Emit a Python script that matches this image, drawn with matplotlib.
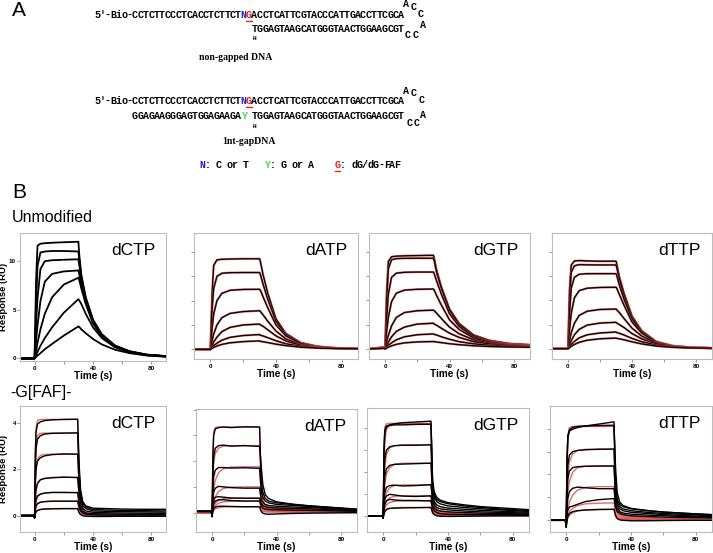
import matplotlib
matplotlib.use("Agg")
import matplotlib.pyplot as plt

W, H = 713, 553

# ---------------- data ----------------
NUCS = ["dCTP", "dATP", "dGTP", "dTTP"]

T_UN = [-10, -0.5, 0, 1, 2, 4, 7, 12, 20, 30, 30.5, 32, 35, 40, 46, 55, 65, 77, 90]

UN_DCTP = [
    [0, 0, 0.1, 8.0, 11.6, 11.8, 11.85, 11.9, 11.95, 12.0, 10.8, 8.6, 6.3, 4.0, 2.5, 1.35, 0.75, 0.4, 0.25],
    [0, 0, 0.1, 5.5, 9.5, 10.9, 11.0, 11.05, 11.05, 11.0, 10.3, 8.4, 6.2, 3.9, 2.45, 1.3, 0.72, 0.38, 0.24],
    [0, 0, 0.1, 3.5, 6.2, 9.2, 10.0, 10.1, 10.15, 10.2, 9.7, 8.1, 6.0, 3.8, 2.4, 1.28, 0.7, 0.37, 0.23],
    [0, 0, 0.05, 1.8, 3.4, 5.9, 7.9, 8.7, 8.95, 9.05, 8.7, 7.6, 5.8, 3.7, 2.3, 1.25, 0.68, 0.36, 0.22],
    [0, 0, 0, 0.8, 1.6, 3.0, 4.6, 6.3, 7.6, 8.3, 8.1, 7.2, 5.6, 3.6, 2.25, 1.2, 0.66, 0.35, 0.22],
    [0, 0, 0, 0.35, 0.7, 1.3, 2.1, 3.2, 4.7, 6.1, 6.0, 5.6, 4.6, 3.2, 2.1, 1.15, 0.64, 0.34, 0.2],
    [0, 0, 0, 0.15, 0.3, 0.55, 0.95, 1.5, 2.35, 3.3, 3.25, 3.0, 2.6, 2.0, 1.45, 0.9, 0.55, 0.3, 0.18],
]
UN_DATP = [
    [0, 0, 0, 4.5, 6.9, 7.35, 7.4, 7.42, 7.44, 7.44, 7.2, 6.2, 4.6, 2.5, 1.3, 0.55, 0.25, 0.1, 0.05],
    [0, 0, 0, 3.2, 5.0, 6.0, 6.25, 6.3, 6.31, 6.31, 6.15, 5.4, 4.1, 2.3, 1.2, 0.5, 0.22, 0.1, 0.05],
    [0, 0, 0, 1.7, 2.9, 4.0, 4.6, 4.85, 4.92, 4.93, 4.85, 4.35, 3.4, 2.0, 1.1, 0.47, 0.2, 0.1, 0.05],
    [0, 0, 0, 0.7, 1.25, 2.0, 2.6, 2.95, 3.1, 3.17, 3.1, 2.85, 2.3, 1.5, 0.85, 0.38, 0.18, 0.09, 0.05],
    [0, 0, 0, 0.3, 0.6, 1.0, 1.45, 1.8, 2.0, 2.07, 2.0, 1.9, 1.6, 1.1, 0.68, 0.32, 0.16, 0.08, 0.05],
    [0, 0, 0, 0.15, 0.3, 0.5, 0.75, 0.98, 1.13, 1.21, 1.15, 1.1, 0.95, 0.7, 0.45, 0.24, 0.12, 0.07, 0.05],
    [0, 0, 0, 0.08, 0.15, 0.27, 0.4, 0.53, 0.63, 0.69, 0.65, 0.62, 0.55, 0.42, 0.3, 0.17, 0.1, 0.06, 0.05],
]
UN_DGTP = [
    [0, 0.15, 0, 4.8, 7.2, 7.6, 7.65, 7.68, 7.7, 7.72, 7.5, 6.5, 5.1, 3.3, 2.1, 1.15, 0.7, 0.45, 0.35],
    [0, 0.15, 0, 4.0, 6.6, 7.35, 7.45, 7.47, 7.48, 7.48, 7.3, 6.3, 5.0, 3.2, 2.0, 1.1, 0.65, 0.4, 0.3],
    [0, 0.12, 0, 2.6, 4.5, 5.9, 6.25, 6.32, 6.34, 6.34, 6.2, 5.6, 4.5, 2.9, 1.85, 1.0, 0.6, 0.37, 0.28],
    [0, 0.1, 0, 1.5, 2.6, 3.9, 4.6, 4.85, 4.92, 4.94, 4.85, 4.4, 3.6, 2.4, 1.6, 0.9, 0.55, 0.35, 0.27],
    [0, 0.1, 0, 0.6, 1.1, 1.9, 2.6, 3.0, 3.15, 3.2, 3.15, 2.95, 2.5, 1.8, 1.25, 0.75, 0.47, 0.32, 0.25],
    [0, 0.08, 0, 0.3, 0.55, 1.0, 1.45, 1.8, 2.05, 2.12, 2.05, 1.95, 1.7, 1.3, 0.95, 0.6, 0.4, 0.28, 0.22],
    [0, 0.08, 0, 0.15, 0.3, 0.5, 0.75, 1.0, 1.17, 1.24, 1.2, 1.15, 1.0, 0.8, 0.6, 0.42, 0.3, 0.22, 0.18],
    [0, 0.05, 0, 0.08, 0.15, 0.25, 0.38, 0.5, 0.58, 0.61, 0.6, 0.57, 0.52, 0.43, 0.35, 0.26, 0.2, 0.16, 0.14],
]
UN_DTTP = [
    [0, 0, 0, 5.0, 6.9, 7.25, 7.28, 7.25, 7.23, 7.23, 7.0, 6.0, 4.6, 2.7, 1.5, 0.6, 0.25, 0.1, 0.05],
    [0, 0, 0, 4.2, 6.3, 6.85, 6.95, 6.93, 6.92, 6.92, 6.7, 5.8, 4.4, 2.6, 1.45, 0.58, 0.24, 0.1, 0.05],
    [0, 0, 0, 3.0, 5.0, 5.9, 6.15, 6.2, 6.2, 6.2, 6.05, 5.3, 4.1, 2.45, 1.4, 0.56, 0.23, 0.1, 0.05],
    [0, 0, 0, 1.6, 2.9, 4.2, 4.8, 5.0, 5.06, 5.08, 5.0, 4.5, 3.6, 2.2, 1.3, 0.53, 0.22, 0.1, 0.05],
    [0, 0, 0, 0.7, 1.3, 2.1, 2.75, 3.1, 3.24, 3.28, 3.2, 3.0, 2.5, 1.7, 1.05, 0.47, 0.2, 0.09, 0.05],
    [0, 0, 0, 0.35, 0.65, 1.15, 1.6, 1.95, 2.12, 2.18, 2.12, 2.0, 1.75, 1.25, 0.82, 0.4, 0.18, 0.08, 0.05],
    [0, 0, 0, 0.18, 0.35, 0.6, 0.9, 1.15, 1.3, 1.38, 1.33, 1.28, 1.13, 0.85, 0.58, 0.3, 0.15, 0.07, 0.05],
    [0, 0, 0, 0.1, 0.2, 0.35, 0.53, 0.7, 0.82, 0.88, 0.85, 0.82, 0.74, 0.57, 0.4, 0.22, 0.12, 0.06, 0.05],
]

T_FAF = [-10, -0.5, 0, 0.5, 1, 2, 4, 7, 12, 20, 29.5, 30.5, 31.5, 33, 35, 40, 50, 60, 75, 90]

FAF_DCTP = [
    [0, 0, -0.08, 2.6, 3.6, 3.95, 4.05, 4.1, 4.13, 4.15, 4.16, 2.2, 1.1, 0.6, 0.42, 0.32, 0.3, 0.28, 0.27, 0.27],
    [0, 0, -0.08, 1.9, 2.9, 3.3, 3.45, 3.52, 3.55, 3.56, 3.57, 1.9, 0.95, 0.52, 0.37, 0.26, 0.24, 0.22, 0.21, 0.2],
    [0, 0, -0.08, 1.3, 2.0, 2.35, 2.5, 2.58, 2.63, 2.66, 2.65, 1.4, 0.75, 0.42, 0.3, 0.2, 0.18, 0.17, 0.16, 0.15],
    [0, 0, -0.1, 0.75, 1.15, 1.4, 1.55, 1.6, 1.63, 1.66, 1.64, 0.9, 0.5, 0.3, 0.2, 0.14, 0.12, 0.11, 0.1, 0.1],
    [0, 0, -0.1, 0.45, 0.7, 0.85, 0.93, 0.97, 1.0, 1.0, 0.99, 0.55, 0.32, 0.18, 0.12, 0.08, 0.07, 0.06, 0.06, 0.06],
    [0, 0, -0.1, 0.25, 0.42, 0.52, 0.58, 0.6, 0.62, 0.62, 0.62, 0.35, 0.2, 0.1, 0.06, 0.03, 0.02, 0.02, 0.02, 0.02],
    [0, 0, -0.12, 0.05, 0.16, 0.22, 0.26, 0.28, 0.29, 0.3, 0.3, 0.12, 0.04, -0.01, -0.03, -0.04, -0.04, -0.03, -0.03, -0.03],
]
FIT_DCTP = [
    [0, 0, 0, 2.9, 3.8, 4.1, 4.15, 4.15, 4.15, 4.15, 4.15, 1.8, 0.75, 0.25, 0.1, 0.02, 0, 0, 0, 0],
    [0, 0, 0, 2.3, 3.1, 3.45, 3.55, 3.56, 3.56, 3.56, 3.56, 1.55, 0.65, 0.22, 0.08, 0.02, 0, 0, 0, 0],
    [0, 0, 0, 1.5, 2.1, 2.45, 2.6, 2.64, 2.65, 2.65, 2.65, 1.15, 0.5, 0.17, 0.06, 0.01, 0, 0, 0, 0],
    [0, 0, 0, 0.7, 1.05, 1.35, 1.55, 1.62, 1.65, 1.65, 1.65, 0.72, 0.31, 0.1, 0.04, 0.01, 0, 0, 0, 0],
    [0, 0, 0, 0.35, 0.6, 0.8, 0.92, 0.98, 0.99, 0.99, 0.99, 0.43, 0.19, 0.06, 0.02, 0, 0, 0, 0, 0],
    [0, 0, 0, 0.2, 0.35, 0.5, 0.57, 0.61, 0.62, 0.62, 0.62, 0.27, 0.12, 0.04, 0.01, 0, 0, 0, 0, 0],
    [0, 0, 0, 0.08, 0.15, 0.22, 0.27, 0.29, 0.3, 0.3, 0.3, 0.13, 0.06, 0.02, 0.01, 0, 0, 0, 0, 0],
]
FAF_DATP = [
    [0.05, 0.05, -0.15, 2.2, 3.0, 3.25, 3.3, 3.32, 3.3, 3.33, 3.32, 1.2, 0.8, 0.55, 0.45, 0.38, 0.32, 0.26, 0.2, 0.12],
    [0.05, 0.05, -0.15, 1.5, 2.2, 2.5, 2.6, 2.62, 2.58, 2.6, 2.57, 1.8, 1.1, 0.7, 0.55, 0.42, 0.33, 0.27, 0.2, 0.14],
    [0.05, 0.05, -0.15, 0.9, 1.4, 1.65, 1.75, 1.75, 1.73, 1.74, 1.72, 0.9, 0.6, 0.45, 0.38, 0.32, 0.28, 0.24, 0.18, 0.12],
    [0.05, 0.05, -0.15, 0.5, 0.8, 0.95, 1.02, 1.0, 0.97, 0.95, 0.95, 0.55, 0.4, 0.32, 0.28, 0.25, 0.22, 0.2, 0.15, 0.1],
    [0.05, 0.05, -0.15, 0.3, 0.5, 0.6, 0.62, 0.6, 0.57, 0.56, 0.56, 0.35, 0.28, 0.23, 0.2, 0.18, 0.17, 0.15, 0.12, 0.08],
    [0.05, 0.05, -0.15, 0.2, 0.35, 0.45, 0.5, 0.5, 0.47, 0.45, 0.45, 0.25, 0.18, 0.14, 0.12, 0.11, 0.1, 0.09, 0.07, 0.05],
    [0.05, 0.05, -0.15, 0.05, 0.15, 0.22, 0.25, 0.25, 0.24, 0.23, 0.23, 0.05, -0.02, -0.05, -0.06, -0.05, -0.03, -0.02, -0.01, 0.0],
]
FIT_DATP = [
    [0, 0, 0, 2.5, 3.15, 3.3, 3.32, 3.32, 3.32, 3.32, 3.32, 1.0, 0.5, 0.3, 0.24, 0.2, 0.15, 0.12, 0.08, 0.05],
    [0, 0, 0, 1.4, 1.95, 2.3, 2.5, 2.58, 2.6, 2.6, 2.6, 0.8, 0.4, 0.25, 0.2, 0.17, 0.13, 0.1, 0.07, 0.05],
    [0, 0, 0, 0.6, 0.9, 1.25, 1.55, 1.7, 1.77, 1.78, 1.78, 0.6, 0.32, 0.2, 0.16, 0.14, 0.11, 0.09, 0.06, 0.04],
    [0, 0, 0, 0.25, 0.42, 0.62, 0.82, 0.94, 0.99, 1.0, 1.0, 0.38, 0.22, 0.15, 0.12, 0.1, 0.08, 0.06, 0.05, 0.03],
    [0, 0, 0, 0.15, 0.25, 0.37, 0.48, 0.54, 0.56, 0.56, 0.56, 0.22, 0.14, 0.1, 0.08, 0.07, 0.06, 0.05, 0.04, 0.02],
    [0, 0, 0, 0.1, 0.18, 0.28, 0.37, 0.42, 0.44, 0.45, 0.45, 0.17, 0.1, 0.07, 0.06, 0.05, 0.04, 0.03, 0.02, 0.01],
    [0, 0, 0, 0.05, 0.1, 0.15, 0.19, 0.22, 0.23, 0.23, 0.23, 0.08, 0.05, 0.03, 0.02, 0.02, 0.01, 0.01, 0.01, 0],
]
FAF_DGTP = [
    [0, 0, -0.1, 3.0, 3.9, 4.1, 4.15, 4.2, 4.25, 4.28, 4.32, 1.6, 1.1, 0.85, 0.72, 0.6, 0.5, 0.42, 0.35, 0.28],
    [0, 0, -0.1, 2.8, 3.8, 4.05, 4.12, 4.15, 4.15, 4.17, 4.18, 1.4, 0.95, 0.75, 0.65, 0.55, 0.45, 0.38, 0.3, 0.24],
    [0, 0, -0.1, 1.8, 2.6, 3.0, 3.15, 3.2, 3.22, 3.22, 3.24, 1.2, 0.85, 0.65, 0.55, 0.45, 0.38, 0.32, 0.26, 0.2],
    [0, 0, -0.1, 1.2, 1.8, 2.15, 2.3, 2.35, 2.36, 2.38, 2.4, 0.95, 0.65, 0.5, 0.42, 0.35, 0.3, 0.25, 0.2, 0.16],
    [0, 0, -0.1, 0.7, 1.05, 1.3, 1.38, 1.4, 1.36, 1.38, 1.42, 0.7, 0.5, 0.38, 0.32, 0.27, 0.22, 0.18, 0.15, 0.12],
    [0, 0, -0.1, 0.5, 0.75, 0.9, 0.98, 0.95, 0.9, 0.88, 0.91, 0.5, 0.35, 0.26, 0.22, 0.18, 0.15, 0.12, 0.1, 0.08],
    [0, 0, -0.1, 0.3, 0.52, 0.68, 0.75, 0.72, 0.7, 0.7, 0.68, 0.35, 0.22, 0.15, 0.1, 0.07, 0.06, 0.05, 0.05, 0.05],
    [0, 0, -0.12, 0.08, 0.2, 0.3, 0.34, 0.35, 0.36, 0.37, 0.38, 0.15, 0.05, 0.0, -0.02, -0.03, -0.02, -0.01, 0, 0],
]
FIT_DGTP = [
    [0, 0, 0, 3.3, 4.05, 4.2, 4.22, 4.22, 4.22, 4.22, 4.22, 1.3, 0.6, 0.3, 0.22, 0.16, 0.12, 0.09, 0.06, 0.04],
    [0, 0, 0, 2.4, 3.4, 3.95, 4.15, 4.2, 4.2, 4.2, 4.2, 1.25, 0.58, 0.29, 0.21, 0.15, 0.11, 0.08, 0.05, 0.03],
    [0, 0, 0, 1.5, 2.2, 2.8, 3.1, 3.2, 3.24, 3.24, 3.24, 0.95, 0.45, 0.22, 0.16, 0.12, 0.09, 0.07, 0.04, 0.03],
    [0, 0, 0, 0.9, 1.4, 1.9, 2.2, 2.35, 2.4, 2.4, 2.4, 0.7, 0.33, 0.17, 0.12, 0.09, 0.07, 0.05, 0.03, 0.02],
    [0, 0, 0, 0.45, 0.75, 1.05, 1.28, 1.38, 1.41, 1.41, 1.41, 0.42, 0.2, 0.1, 0.07, 0.05, 0.04, 0.03, 0.02, 0.01],
    [0, 0, 0, 0.28, 0.48, 0.68, 0.82, 0.89, 0.91, 0.91, 0.91, 0.27, 0.13, 0.06, 0.05, 0.03, 0.02, 0.02, 0.01, 0.01],
    [0, 0, 0, 0.2, 0.35, 0.5, 0.61, 0.66, 0.68, 0.68, 0.68, 0.2, 0.1, 0.05, 0.03, 0.02, 0.02, 0.01, 0.01, 0],
    [0, 0, 0, 0.1, 0.18, 0.27, 0.33, 0.37, 0.38, 0.38, 0.38, 0.11, 0.05, 0.03, 0.02, 0.01, 0.01, 0, 0, 0],
]
FAF_DTTP = [
    [0, 0, -0.2, 2.5, 3.7, 3.9, 3.98, 4.05, 4.12, 4.2, 4.3, 1.5, 0.9, 0.7, 0.6, 0.5, 0.42, 0.36, 0.3, 0.25],
    [0, 0, -0.2, 2.3, 3.6, 3.95, 4.05, 4.1, 4.12, 4.14, 4.15, 2.25, 1.2, 0.8, 0.65, 0.52, 0.43, 0.36, 0.3, 0.24],
    [0, 0, -0.25, 1.4, 2.4, 2.85, 3.0, 3.05, 3.08, 3.1, 3.11, 1.2, 0.8, 0.6, 0.5, 0.42, 0.35, 0.3, 0.25, 0.2],
    [0, 0, -0.25, 1.0, 1.8, 2.15, 2.3, 2.34, 2.36, 2.37, 2.37, 1.0, 0.65, 0.5, 0.42, 0.35, 0.3, 0.25, 0.2, 0.16],
    [0, 0, -0.3, 0.5, 0.95, 1.25, 1.4, 1.45, 1.42, 1.38, 1.38, 0.75, 0.5, 0.38, 0.32, 0.27, 0.23, 0.2, 0.16, 0.12],
    [0, 0, -0.3, 0.2, 0.45, 0.58, 0.62, 0.7, 0.82, 0.9, 0.95, 0.55, 0.38, 0.3, 0.25, 0.2, 0.17, 0.14, 0.12, 0.1],
    [0, 0, -0.3, -0.05, 0.15, 0.3, 0.38, 0.42, 0.45, 0.47, 0.48, 0.2, 0.08, 0.02, 0.0, -0.02, -0.02, -0.01, 0, 0],
]
FIT_DTTP = [
    [0, 0, 0, 2.8, 3.7, 4.05, 4.1, 4.1, 4.1, 4.1, 4.1, 1.6, 0.7, 0.35, 0.25, 0.18, 0.12, 0.09, 0.06, 0.04],
    [0, 0, 0, 2.5, 3.5, 3.95, 4.08, 4.1, 4.1, 4.1, 4.1, 1.55, 0.68, 0.34, 0.24, 0.17, 0.12, 0.09, 0.06, 0.04],
    [0, 0, 0, 1.3, 1.95, 2.55, 2.9, 3.05, 3.1, 3.11, 3.11, 1.2, 0.52, 0.26, 0.18, 0.13, 0.09, 0.07, 0.05, 0.03],
    [0, 0, 0, 0.8, 1.2, 1.7, 2.1, 2.3, 2.36, 2.37, 2.37, 0.9, 0.4, 0.2, 0.14, 0.1, 0.07, 0.05, 0.04, 0.02],
    [0, 0, 0, 0.3, 0.5, 0.8, 1.1, 1.32, 1.44, 1.47, 1.47, 0.56, 0.25, 0.12, 0.09, 0.06, 0.04, 0.03, 0.02, 0.01],
    [0, 0, 0, 0.12, 0.22, 0.38, 0.52, 0.64, 0.72, 0.75, 0.76, 0.3, 0.13, 0.07, 0.05, 0.03, 0.02, 0.02, 0.01, 0.01],
    [0, 0, 0, 0.07, 0.13, 0.22, 0.33, 0.41, 0.46, 0.48, 0.48, 0.18, 0.08, 0.04, 0.03, 0.02, 0.01, 0.01, 0, 0],
]

UN_SETS = [UN_DCTP, UN_DATP, UN_DGTP, UN_DTTP]
FAF_SETS = [FAF_DCTP, FAF_DATP, FAF_DGTP, FAF_DTTP]
FIT_SETS = [FIT_DCTP, FIT_DATP, FIT_DGTP, FIT_DTTP]

UN_YTICKS = [[0, 5, 10], [0, 2, 4, 6, 8], [0, 2, 4, 6, 8], [0, 2, 4, 6, 8]]
FAF_YTICKS = [[0, 2, 4], [0, 1, 2, 3, 4], [0, 1, 2, 3, 4], [0, 1, 2, 3, 4]]
X_TICKS = [0, 40, 80]

# sequences (panel A)
STRAND_TOP = "5'-Bio-CCTCTTCCCTCACCTCTTCT"
STRAND_TOP_END = "ACCTCATTCGTACCCATTGACCTTCGCA"
STRAND_BOTTOM = "TGGAGTAAGCATGGGTAACTGGAAGCGT"
STRAND_UP = "GGAGAAGGGAGTGGAGAAGA"

# ---------------- layout (pixels) ----------------
UN_BOX = [(20, 233, 166, 361), (194, 233, 358, 359), (369, 233, 530, 359), (552, 233, 712, 359)]
FAF_BOX = [(20, 406, 166, 532), (196, 409, 357, 532), (367, 408, 529, 532), (550, 406, 712, 532)]
UN_YLIM = [(-0.26, 12.9), (-0.8, 9.56), (-0.83, 9.56), (-0.85, 9.56)]
FAF_YLIM = [(-0.71, 4.73), (-0.75, 4.02), (-0.74, 4.92), (-0.51, 4.99)]

SANS = "Liberation Sans"
MONO = "Liberation Mono"
FIT_RED = "#d9534f"

fig = plt.figure(figsize=(W / 100, H / 100), dpi=100)


def fpos(x, y):
    return x / W, 1 - y / H


def make_ax(box, ylim, yticks, show_ylab):
    l, t, r, b = box
    ax = fig.add_axes([l / W, 1 - b / H, (r - l) / W, (b - t) / H])
    ax.set_xlim(-10, 90)
    ax.set_ylim(*ylim)
    ax.set_xticks(X_TICKS)
    ax.set_xticks([20, 60], minor=True)
    ax.set_yticks(yticks)
    for s in ax.spines.values():
        s.set_color("#bdbdbd")
        s.set_linewidth(0.8)
    ax.tick_params(which="both", direction="out", length=2, width=0.6, color="#888888",
                   pad=1.5, labelsize=4.5)
    ax.tick_params(axis="y", pad=1.0)
    for lab in ax.get_xticklabels():
        lab.set_fontweight("bold")
        lab.set_fontfamily(SANS)
    if show_ylab:
        for lab in ax.get_yticklabels():
            lab.set_fontweight("bold")
            lab.set_fontfamily(SANS)
        ax.set_ylabel("Response (RU)", fontsize=6.8, fontweight="bold", family=SANS)
        ax.yaxis.set_label_coords(-11.5 / (r - l), 0.5)
    else:
        ax.set_yticklabels([])
    ax.set_xlabel("Time (s)", fontsize=7.2, fontweight="bold", family=SANS, labelpad=0)
    return ax


def panel_name(ax, name):
    ax.annotate(name, xy=(1, 1), xycoords="axes fraction", xytext=(-11, -10),
                textcoords="offset pixels", ha="right", va="top",
                fontsize=12.5, family=SANS)


# ---------------- row 1: unmodified ----------------
for i, name in enumerate(NUCS):
    ax = make_ax(UN_BOX[i], UN_YLIM[i], UN_YTICKS[i], i == 0)
    for curve in UN_SETS[i]:
        if i == 0:
            ax.plot(T_UN, curve, color="black", lw=1.3, solid_joinstyle="round")
        else:
            ax.plot(T_UN, curve, color=FIT_RED, lw=1.6, alpha=0.8, solid_joinstyle="round")
            ax.plot(T_UN, curve, color="black", lw=0.9, solid_joinstyle="round")
    panel_name(ax, name)

# ---------------- row 2: -G[FAF]- ----------------
for i, name in enumerate(NUCS):
    ax = make_ax(FAF_BOX[i], FAF_YLIM[i], FAF_YTICKS[i], i == 0)
    for curve in FIT_SETS[i]:
        ax.plot(T_FAF, curve, color=FIT_RED, lw=1.0, alpha=0.85, solid_joinstyle="round")
    for curve in FAF_SETS[i]:
        ax.plot(T_FAF, curve, color="black", lw=1.0, solid_joinstyle="round")
    panel_name(ax, name)

# ---------------- labels ----------------
fig.text(*fpos(12, 10), "A", fontsize=15, family=SANS, va="center", ha="left")
fig.text(*fpos(12, 193), "B", fontsize=15, family=SANS, va="center", ha="left")
fig.text(*fpos(12, 217), "Unmodified", fontsize=11.5, family=SANS, va="center", ha="left")
fig.text(*fpos(10, 392), "-G[FAF]-", fontsize=11.5, family=SANS, va="center", ha="left")

# ---------------- panel A: sequences ----------------
X0, CW = 94.3, 5.43
SEQ_FS = 7.2
BLUE, RED, GREEN = "#1c1cd6", "#e0201e", "#3ee03e"


def seq(idx, y, s, color="black", x0=X0):
    for k, ch in enumerate(s):
        if ch == " ":
            continue
        fig.text(*fpos(x0 + (idx + k) * CW + CW / 2, y), ch, fontsize=SEQ_FS, family=MONO,
                 fontweight="bold", color=color, va="center", ha="center")


def under(x1, y):
    fig.add_artist(plt.Line2D([x1 / W, (x1 + CW) / W], [1 - y / H, 1 - y / H],
                              color=RED, lw=0.9))


def loop(x, y, s):
    fig.text(*fpos(x, y), s, fontsize=SEQ_FS, family=MONO, fontweight="bold",
             va="center", ha="center")


for y_top, y_bot, y_h, gapped in [(15, 29, 38, False), (101, 116, 127, True)]:
    seq(0, y_top, STRAND_TOP)
    seq(27, y_top, "N", BLUE)
    seq(28, y_top, "G", RED)
    under(X0 + 28 * CW, y_top + 6)
    seq(29, y_top, STRAND_TOP_END)
    seq(29, y_bot, STRAND_BOTTOM)
    fig.text(*fpos(X0 + 29 * CW + 2.7, y_h), "H", fontsize=4.5, family=MONO,
             fontweight="bold", va="center", ha="center")
    if gapped:
        seq(7, y_bot, STRAND_UP)
        seq(27, y_bot, "Y", GREEN)

loop(406, 4, "A"); loop(414, 7.5, "C"); loop(421, 14, "C"); loop(423, 25, "A")
loop(407.5, 35.5, "C"); loop(416, 35.5, "C")
loop(406, 91, "A"); loop(414, 93.5, "C"); loop(421.5, 100, "C"); loop(423.5, 114.5, "A")
loop(410, 122.5, "C"); loop(416.5, 122.5, "C")

fig.text(*fpos(236, 58), "non-gapped DNA", fontsize=7, family="Liberation Serif",
         fontweight="bold", ha="center", va="center")
fig.text(*fpos(249, 142), "1nt-gapDNA", fontsize=7, family="Liberation Serif",
         fontweight="bold", ha="center", va="center")

LX = 199.3
LEG_Y = 165
seq(0, LEG_Y, "N", BLUE, x0=LX)
seq(1, LEG_Y, ": C or T", x0=LX)
seq(12, LEG_Y, "Y", GREEN, x0=LX)
seq(13, LEG_Y, ": G or A", x0=LX)
seq(25, LEG_Y, "G", RED, x0=LX)
seq(26, LEG_Y, ": dG/dG-FAF", x0=LX)
under(LX + 25 * CW, LEG_Y + 6)

fig.savefig("out.png", dpi=100)
